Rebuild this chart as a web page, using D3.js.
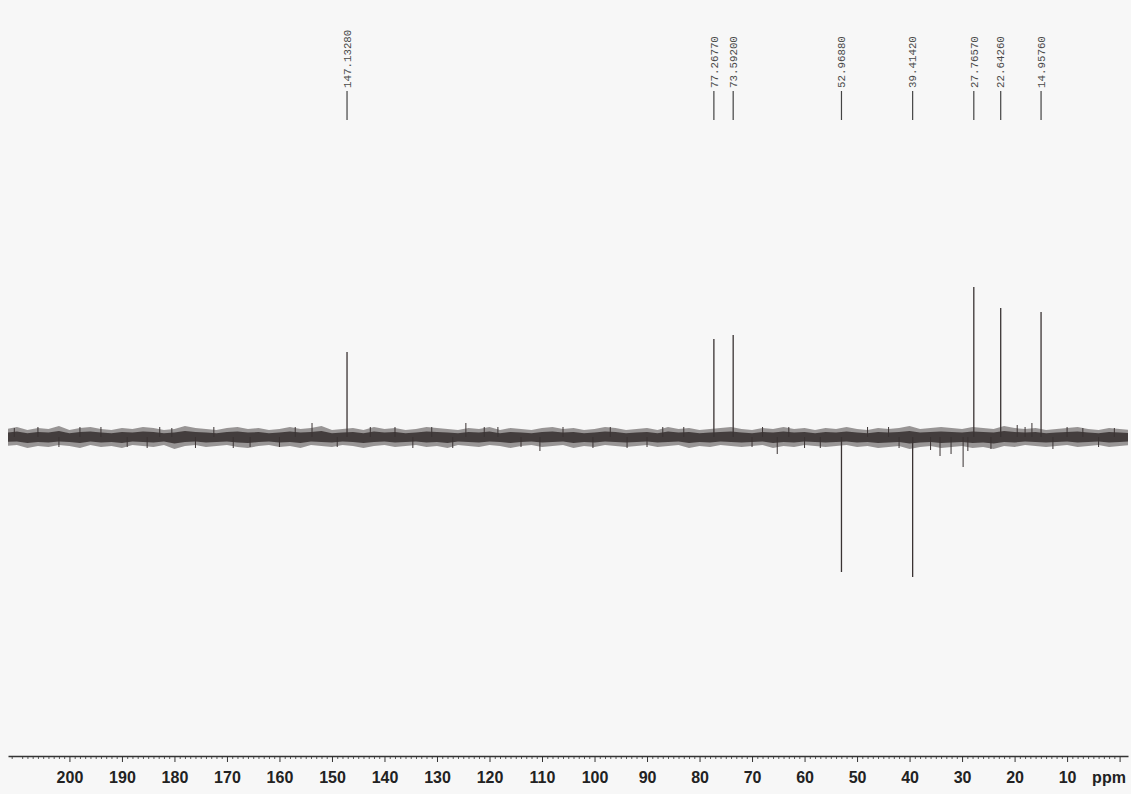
<!DOCTYPE html>
<html>
<head>
<meta charset="utf-8">
<script src="https://cdn.jsdelivr.net/npm/d3@7"></script>
<style>
  html, body { margin: 0; padding: 0; background: #f7f7f7; }
  svg { display: block; }
</style>
</head>
<body>
<svg id="chart" width="1131" height="794"></svg>
<script>
// ---- data ----
// peak chemical shifts (ppm) and signed intensities (arbitrary units, + up / - down)
const peakShifts = [147.1328, 77.2677, 73.5920, 52.9688, 39.4142, 27.7657, 22.6426, 14.9576];
const peakHeights = [85, 98, 102, -135, -140, 150, 129, 125];
const peakLabels = ["147.13280", "77.26770", "73.59200", "52.96880", "39.41420", "27.76570", "22.64260", "14.95760"];

// baseline noise envelope, sampled every 2 ppm from 212 to -4 ppm
const noisePpm = [
  212,210,208,206,204,202,200,198,196,194,
  192,190,188,186,184,182,180,178,176,174,
  172,170,168,166,164,162,160,158,156,154,
  152,150,148,146,144,142,140,138,136,134,
  132,130,128,126,124,122,120,118,116,114,
  112,110,108,106,104,102,100,98,96,94,
  92,90,88,86,84,82,80,78,76,74,
  72,70,68,66,64,62,60,58,56,54,
  52,50,48,46,44,42,40,38,36,34,
  32,30,28,26,24,22,20,18,16,14,
  12,10,8,6,4,2,0,-2,-4];
const noiseUpper = [
  8,10,7,9,8,11,7,9,10,8,
  7,9,8,10,9,7,8,11,9,8,
  7,9,10,8,9,7,8,10,8,9,
  11,7,8,9,7,10,8,9,7,8,
  10,9,8,7,9,8,10,7,9,8,
  7,9,10,8,9,7,8,10,9,7,
  8,9,7,10,8,9,7,8,9,10,
  8,7,9,8,10,8,9,7,9,8,
  10,8,7,9,8,9,11,8,9,10,
  9,8,10,9,8,11,9,8,9,7,
  8,9,10,8,7,9,8,7,9];
const noiseLower = [
  -9,-8,-11,-9,-10,-8,-9,-11,-8,-10,
  -9,-11,-8,-9,-10,-8,-12,-9,-8,-10,
  -9,-8,-10,-11,-9,-8,-10,-9,-11,-8,
  -9,-10,-8,-9,-11,-9,-8,-10,-9,-8,
  -10,-9,-11,-8,-9,-10,-8,-9,-11,-9,
  -8,-10,-9,-8,-11,-9,-10,-8,-9,-10,
  -9,-8,-10,-9,-8,-11,-9,-10,-8,-9,
  -10,-9,-8,-11,-9,-10,-8,-9,-10,-9,
  -8,-10,-9,-11,-10,-9,-12,-10,-9,-11,
  -10,-9,-11,-10,-12,-9,-10,-8,-9,-10,
  -9,-8,-10,-9,-8,-10,-9,-8,-9];

// isolated noise spikes that stick out of the band (ppm, intensity)
const spikePpm = [206.0, 198.0, 185.2, 182.8, 180.5, 168.8, 165.6, 153.8, 142.7, 134.6, 124.5, 118.4, 110.4, 100.3, 93.8, 65.2, 34.2, 32.1, 29.8, 28.9, 16.7, 12.7, 19.5, 63.0, 44.0, 87.0, 176.0, 131.0, 57.0, 7.0,
  210.5, 202.0, 194.0, 189.0, 172.5, 160.0, 157.0, 149.0, 138.0, 127.0, 121.0, 114.0, 106.0, 97.0, 90.0, 83.0, 70.0, 68.0, 60.0, 48.0, 42.0, 36.0, 24.5, 18.0, 10.0, 4.0, 1.0];
const spikeVal = [10, 10, -11, 10, 9, -11, -10, 14, 10, -11, 14, 10, -14, -11, -11, -17, -19, -17, -30, -14, 14, -12, 12, 10, 10, 10, -11, 10, -11, 9,
  9, -10, 10, -10, 10, -10, 10, -10, 10, -11, 10, -10, 10, 10, -10, 10, -10, 10, -11, 10, -11, -13, -12, 10, 10, -10, 9];

// axis ticks
const majorTicks = [200,190,180,170,160,150,140,130,120,110,100,90,80,70,60,50,40,30,20,10];
const axisUnit = "ppm";

// ---- drawing ----
const svg = d3.select("#chart");
svg.append("rect").attr("width", 1131).attr("height", 794).attr("fill", "#f7f7f7");

const x = d3.scaleLinear().domain([211.7, -1.6]).range([8, 1128]);
const y = d3.scaleLinear().domain([-300, 350]).range([737, 87]);

const ink = "#3a3333";

svg.append("clipPath").attr("id", "plotclip")
  .append("rect").attr("x", 8).attr("y", 0).attr("width", 1120).attr("height", 750);

const plot = svg.append("g").attr("clip-path", "url(#plotclip)");

// noise band: outer hairline envelope + dense core
const band = noisePpm.map((p, i) => ({p, u: noiseUpper[i], l: noiseLower[i]}));
plot.append("path")
  .datum(band)
  .attr("fill", ink)
  .attr("fill-opacity", 0.5)
  .attr("d", d3.area().x(d => x(d.p)).y0(d => y(d.l)).y1(d => y(d.u)));
plot.append("path")
  .datum(band)
  .attr("fill", ink)
  .attr("fill-opacity", 0.9)
  .attr("d", d3.area().x(d => x(d.p)).y0(d => y(d.l * 0.55)).y1(d => y(d.u * 0.55)));

// spikes
plot.selectAll("line.spike")
  .data(spikePpm.map((p, i) => ({p, v: spikeVal[i]})))
  .join("line")
  .attr("class", "spike")
  .attr("x1", d => x(d.p)).attr("x2", d => x(d.p))
  .attr("y1", y(0)).attr("y2", d => y(d.v))
  .attr("stroke", ink).attr("stroke-width", 1);

// peaks
plot.selectAll("line.peak")
  .data(peakShifts.map((p, i) => ({p, h: peakHeights[i]})))
  .join("line")
  .attr("class", "peak")
  .attr("x1", d => x(d.p)).attr("x2", d => x(d.p))
  .attr("y1", y(0)).attr("y2", d => y(d.h))
  .attr("stroke", ink).attr("stroke-width", 1.3);

// peak labels
const lab = svg.append("g").selectAll("g")
  .data(peakShifts.map((p, i) => ({p, t: peakLabels[i]})))
  .join("g")
  .attr("transform", d => `translate(${x(d.p)},0)`);
lab.append("line")
  .attr("x1", 0).attr("x2", 0).attr("y1", 91).attr("y2", 120)
  .attr("stroke", "#444").attr("stroke-width", 1.2);
lab.append("text")
  .attr("transform", "translate(0,88) rotate(-90)")
  .attr("dy", "0.35em")
  .attr("text-anchor", "start")
  .attr("font-family", "'Liberation Mono', 'DejaVu Sans Mono', monospace")
  .attr("font-size", 10.8)
  .attr("fill", "#4a4a4a")
  .text(d => d.t);

// axis
const axisY = 756;
const minorTicks = d3.range(0, 212, 1).filter(v => v % 10 !== 0);
const gMinor = svg.append("g").attr("transform", `translate(0,${axisY})`)
  .call(d3.axisBottom(x).tickValues(minorTicks).tickSize(3).tickSizeOuter(0).tickFormat(""));
gMinor.select(".domain").remove();
gMinor.selectAll("line").attr("stroke", "#333").attr("stroke-width", 0.8);

const gMajor = svg.append("g").attr("transform", `translate(0,${axisY})`)
  .call(d3.axisBottom(x).tickValues(majorTicks.concat([0])).tickSize(6).tickSizeOuter(0).tickPadding(9.5)
    .tickFormat(d => d === 0 ? "" : d3.format("d")(d)));
gMajor.select(".domain").attr("stroke", "#333").attr("stroke-width", 1.4);
gMajor.selectAll("line").attr("stroke", "#333").attr("stroke-width", 1);
gMajor.selectAll("text")
  .attr("font-family", "'Liberation Sans', Arial, sans-serif")
  .attr("font-weight", "bold")
  .attr("font-size", 16)
  .attr("fill", "#222");

svg.append("text")
  .attr("x", 1109).attr("y", 783)
  .attr("text-anchor", "middle")
  .attr("font-family", "'Liberation Sans', Arial, sans-serif")
  .attr("font-weight", "bold")
  .attr("font-size", 16)
  .attr("fill", "#222")
  .text(axisUnit);
</script>
</body>
</html>
